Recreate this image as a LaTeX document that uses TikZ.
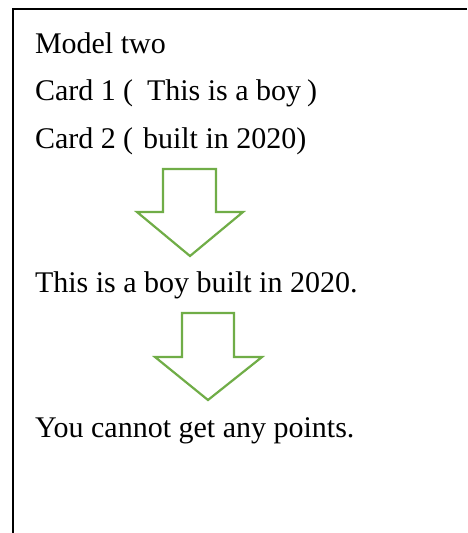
\documentclass[tikz,border=0pt]{standalone}
\usepackage{fontspec}
\setmainfont{Liberation Serif}
\definecolor{arrowgreen}{HTML}{70AD47}
\begin{document}
\begin{tikzpicture}[x=1pt,y=-1pt,
  txt/.style={anchor=base west,inner sep=0pt,outer sep=0pt,font=\fontsize{30}{36}\selectfont},
  frame/.style={draw=black,line width=2pt},
  bigarrow/.style={draw=arrowgreen,line width=2.2pt,fill=white,line join=miter}]
\useasboundingbox (0,0) rectangle (467,533);
% open frame (top and left sides visible)
\draw[frame] (13,533) -- (13,9) -- (467,9);
% texts
\node[txt] (model) at (35,53) {Model two};
\node[txt] (card1) at (35,100) {Card 1};
\node[txt] (p1o) at (123,100) {(};
\node[txt] (c1t) at (147,100) {This is a boy};
\node[txt] (p1c) at (307,100) {)};
\node[txt] (card2) at (35,148) {Card 2};
\node[txt] (p2o) at (123,148) {(};
\node[txt] (c2t) at (143,148) {built in 2020)};
\node[txt] (sent) at (35,292) {This is a boy built in 2020.};
\node[txt] (result) at (35,437) {You cannot get any points.};
% block arrows
\draw[bigarrow] (163,169) -- (216,169) -- (216,212) -- (243,212) -- (190,256) -- (137,212) -- (163,212) -- cycle;
\draw[bigarrow] (182,313) -- (234,313) -- (234,357) -- (262,357) -- (208,400) -- (155,357) -- (182,357) -- cycle;
\end{tikzpicture}
\end{document}
